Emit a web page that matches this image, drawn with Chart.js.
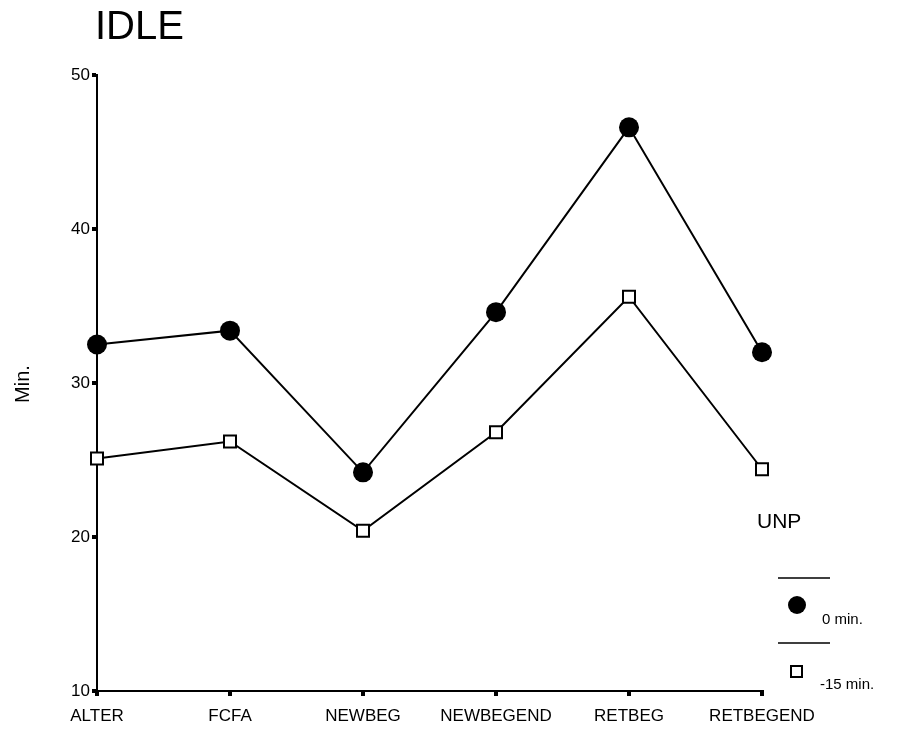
<!DOCTYPE html>
<html>
<head>
<meta charset="utf-8">
<script src="https://cdn.jsdelivr.net/npm/chart.js@4/dist/chart.umd.min.js"></script>
<style>
  html, body { margin: 0; padding: 0; background: #fff; }
  #wrap { width: 902px; height: 731px; }
</style>
</head>
<body>
<div id="wrap"><canvas id="myChart" width="902" height="731"></canvas></div>
<script>
const categories = ["ALTER", "FCFA", "NEWBEG", "NEWBEGEND", "RETBEG", "RETBEGEND"];
const unp0 = [32.5, 33.4, 24.2, 34.6, 46.6, 32.0];
const unp15 = [25.1, 26.2, 20.4, 26.8, 35.6, 24.4];
const yTicks = [10, 20, 30, 40, 50];
const seriesNames = ["0 min.", "-15 min."];

const FONT = "'Liberation Sans', Arial, sans-serif";

// title, y title and the UNP key are drawn by hand
const decorations = {
  id: "decorations",
  afterDraw(chart) {
    const ctx = chart.ctx;
    ctx.save();
    ctx.fillStyle = "#000";
    ctx.strokeStyle = "#000";

    ctx.font = "40px " + FONT;
    ctx.textBaseline = "alphabetic";
    ctx.textAlign = "left";
    ctx.fillText("IDLE", 95, 39);

    ctx.save();
    ctx.translate(23, 384);
    ctx.rotate(-Math.PI / 2);
    ctx.textAlign = "center";
    ctx.textBaseline = "middle";
    ctx.font = "20px " + FONT;
    ctx.fillText("Min.", 0, 0);
    ctx.restore();

    ctx.textBaseline = "middle";
    ctx.font = "21px " + FONT;
    ctx.textAlign = "left";
    ctx.fillText("UNP", 757, 522);

    ctx.lineWidth = 1.5;
    ctx.beginPath();
    ctx.moveTo(778, 578); ctx.lineTo(830, 578);
    ctx.moveTo(778, 643); ctx.lineTo(830, 643);
    ctx.stroke();

    ctx.beginPath();
    ctx.arc(797, 605, 9, 0, Math.PI * 2);
    ctx.fill();

    ctx.lineWidth = 2;
    ctx.strokeRect(791, 666, 11, 11);

    ctx.font = "15px " + FONT;
    ctx.fillText(seriesNames[0], 822, 620);
    ctx.fillText(seriesNames[1], 820, 685);
    ctx.restore();
  }
};

const data = {
  labels: categories,
  datasets: [
    {
      label: seriesNames[0],
      data: unp0,
      borderColor: "#000",
      backgroundColor: "#000",
      borderWidth: 2,
      pointStyle: "circle",
      pointRadius: 10,
      pointBorderWidth: 0,
      pointBackgroundColor: "#000",
      tension: 0,
    },
    {
      label: seriesNames[1],
      data: unp15,
      borderColor: "#000",
      backgroundColor: "#fff",
      borderWidth: 2,
      pointStyle: "rect",
      pointRadius: 8.5,
      pointBorderWidth: 2,
      pointBackgroundColor: "#fff",
      pointBorderColor: "#000",
      tension: 0,
    },
  ],
};

const config = {
  type: "line",
  data: data,
  options: {
    responsive: false,
    animation: false,
    layout: { padding: { top: 75, right: 140, left: 0, bottom: 0 } },
    plugins: {
      legend: { display: false },
      title: { display: false },
      tooltip: { enabled: false },
    },
    scales: {
      x: {
        offset: false,
        grid: {
          drawOnChartArea: false,
          drawTicks: true,
          tickLength: 5,
          color: "#000",
          lineWidth: 4,
        },
        border: { display: true, color: "#000", width: 2 },
        ticks: {
          color: "#000",
          font: { family: FONT, size: 17 },
          maxRotation: 0,
          autoSkip: false,
          padding: 10,
        },
        afterFit(scale) { scale.height = 40; },
      },
      y: {
        min: 10,
        max: 50,
        afterBuildTicks(scale) { scale.ticks = yTicks.map(v => ({ value: v })); },
        grid: {
          drawOnChartArea: false,
          drawTicks: true,
          tickLength: 5,
          color: "#000",
          lineWidth: 4,
        },
        border: { display: true, color: "#000", width: 2 },
        ticks: {
          color: "#000",
          font: { family: FONT, size: 17 },
          padding: 2,
        },
        afterFit(scale) { scale.width = 97; },
      },
    },
  },
  plugins: [decorations],
};

const ctx = document.getElementById("myChart").getContext("2d");
new Chart(ctx, config);
</script>
</body>
</html>
